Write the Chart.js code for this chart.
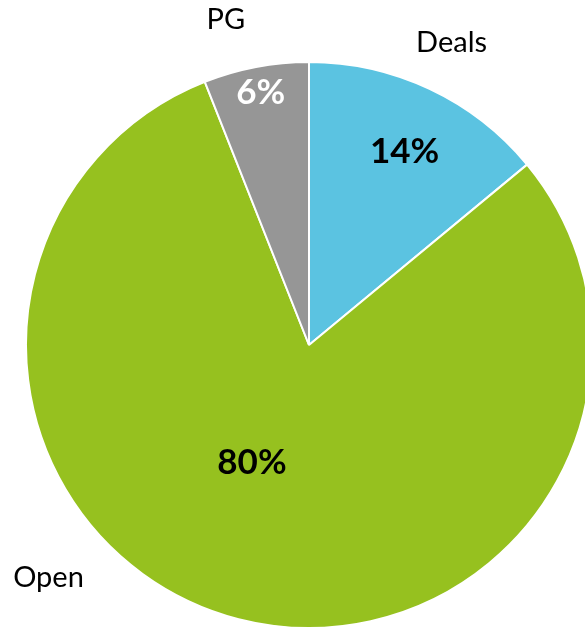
<!DOCTYPE html>
<html>
<head>
<meta charset="utf-8">
<script src="https://cdn.jsdelivr.net/npm/chart.js@4"></script>
<style>
  html, body { margin: 0; padding: 0; background: #fff; overflow: hidden; }
  #wrap { width: 585px; height: 630px; overflow: hidden; }
</style>
</head>
<body>
<div id="wrap"><canvas id="pie" width="618" height="630"></canvas></div>
<script>
const categories = ['Deals', 'Open', 'PG'];
const shares = [14, 80, 6];
const sliceColors = ['#5BC3E1', '#96C11F', '#969696'];
const pctColors = ['#000000', '#000000', '#ffffff'];

// label placement, relative to each slice: angle shift (deg) and distance as share of radius
const pctPlace = [{ shift: 1, dist: 0.765 }, { shift: 11.6, dist: 0.46 }, { shift: 0, dist: 0.91 }];
const namePlace = [{ shift: 0, dist: 1.183 }, { shift: 34, dist: 1.231 }, { shift: -3.5, dist: 1.19 }];

const FONT = 'Lato, "Open Sans", sans-serif';

const sliceLabels = {
  id: 'sliceLabels',
  afterDatasetsDraw(chart) {
    const ctx = chart.ctx;
    const meta = chart.getDatasetMeta(0);
    ctx.save();
    ctx.textAlign = 'center';
    ctx.textBaseline = 'middle';
    meta.data.forEach((arc, i) => {
      const p = arc.getProps(['x', 'y', 'startAngle', 'endAngle', 'outerRadius'], true);
      const mid = (p.startAngle + p.endAngle) / 2;
      const at = (place) => {
        const a = mid + place.shift * Math.PI / 180;
        return [p.x + Math.cos(a) * p.outerRadius * place.dist, p.y + Math.sin(a) * p.outerRadius * place.dist];
      };
      let [x, y] = at(pctPlace[i]);
      ctx.font = 'bold 35px ' + FONT;
      ctx.fillStyle = pctColors[i];
      ctx.fillText(shares[i] + '%', x, y + 1);
      [x, y] = at(namePlace[i]);
      ctx.font = '29px ' + FONT;
      ctx.fillStyle = '#000';
      ctx.fillText(categories[i], x, y + 1);
    });
    ctx.restore();
  }
};

new Chart(document.getElementById('pie'), {
  type: 'pie',
  data: {
    labels: categories,
    datasets: [{
      data: shares,
      backgroundColor: sliceColors,
      borderColor: '#ffffff',
      borderWidth: 2
    }]
  },
  options: {
    responsive: false,
    animation: false,
    radius: 283,
    layout: { padding: { top: 60, bottom: 0, left: 0, right: 0 } },
    plugins: {
      legend: { display: false },
      tooltip: { enabled: false }
    }
  },
  plugins: [sliceLabels]
});
</script>
</body>
</html>
